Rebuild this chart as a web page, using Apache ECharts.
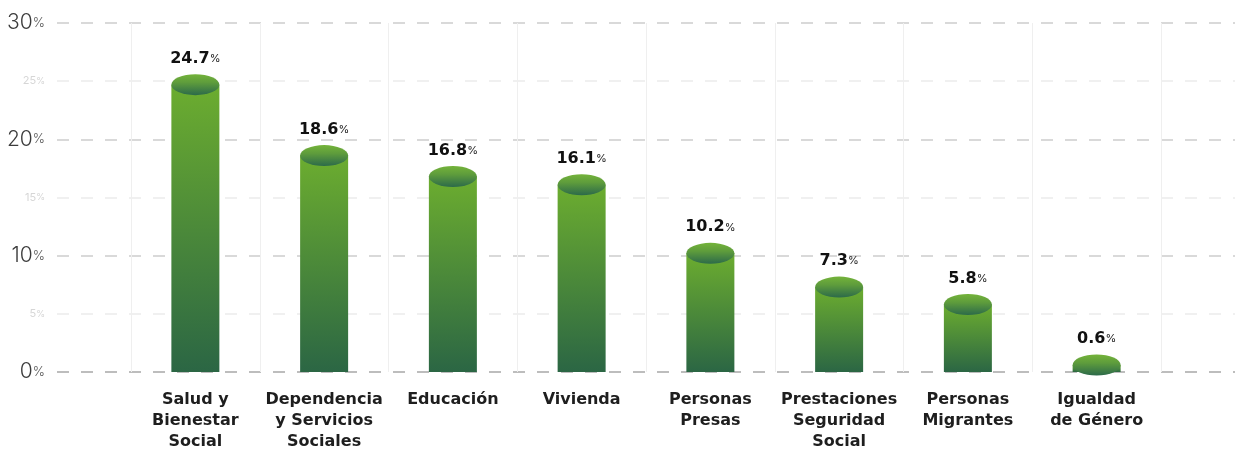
<!DOCTYPE html>
<html>
<head>
<meta charset="utf-8">
<script src="https://cdn.jsdelivr.net/npm/echarts@6/dist/echarts.min.js"></script>
<style>
  html, body { margin: 0; padding: 0; background: #fff; }
  #main { width: 1235px; height: 452px; }
</style>
</head>
<body>
<div id="main"></div>
<script>
// datos
var categories = [
  "Salud y\nBienestar\nSocial",
  "Dependencia\ny Servicios\nSociales",
  "Educación",
  "Vivienda",
  "Personas\nPresas",
  "Prestaciones\nSeguridad\nSocial",
  "Personas\nMigrantes",
  "Igualdad\nde Género"
];
var values = [24.7, 18.6, 16.8, 16.1, 10.2, 7.3, 5.8, 0.6];
var yTicks = [0, 5, 10, 15, 20, 25, 30];

var FONT = "Inter, 'Noto Sans', sans-serif";
var BOLD = "'DejaVu Sans', sans-serif";
var myChart = echarts.init(document.getElementById("main"));

var hidden = { show: false };

myChart.setOption({
  animation: false,
  textStyle: { fontFamily: FONT },
  grid: [
    { left: 57, right: 0, top: 23, bottom: 80 },
    { left: 131, right: 74, top: 23, bottom: 80 }
  ],
  xAxis: [
    { gridIndex: 0, type: "value", show: false },
    {
      gridIndex: 1,
      type: "category",
      data: categories,
      axisLine: hidden,
      axisTick: hidden,
      splitLine: { show: true, lineStyle: { color: "#efefef", width: 1 } },
      axisLabel: {
        margin: 17,
        interval: 0,
        color: "#1e1e1e",
        fontSize: 16,
        fontWeight: "bold",
        lineHeight: 21,
        fontFamily: BOLD
      }
    }
  ],
  yAxis: [
    {
      // lineas menores 5, 15, 25
      gridIndex: 0,
      type: "value",
      position: "left",
      min: yTicks[0],
      max: yTicks[yTicks.length - 1],
      interval: 5,
      axisLine: hidden,
      axisTick: hidden,
      splitLine: {
        lineStyle: { color: ["transparent", "#ebebeb"], type: [12, 12], width: 1.5 }
      },
      axisLabel: {
        margin: 12,
        formatter: function (v) {
          return v % 10 === 0 ? "" : "{n|" + v + "}{p|%}";
        },
        rich: {
          n: { fontSize: 11, color: "#d6d6d6", fontFamily: FONT },
          p: { fontSize: 9, color: "#d6d6d6", fontFamily: FONT }
        }
      }
    },
    {
      // lineas mayores 0, 10, 20, 30
      gridIndex: 0,
      type: "value",
      position: "left",
      offset: 0,
      min: yTicks[0],
      max: yTicks[yTicks.length - 1],
      interval: 10,
      axisLine: hidden,
      axisTick: hidden,
      splitLine: {
        lineStyle: { color: ["#bdbdbd", "#d9d9d9", "#d9d9d9", "#d9d9d9"], type: [12, 12], width: 2 }
      },
      axisLabel: {
        margin: 12,
        formatter: function (v) {
          return "{n|" + v + "}{p|%}";
        },
        rich: {
          n: { fontSize: 21, color: "#3c3c3c", fontWeight: 300, fontFamily: FONT },
          p: { fontSize: 13, color: "#555", fontWeight: 300, fontFamily: FONT }
        }
      }
    },
    {
      gridIndex: 1,
      type: "value",
      min: yTicks[0],
      max: yTicks[yTicks.length - 1],
      show: false
    }
  ],
  series: [
    {
      type: "bar",
      xAxisIndex: 1,
      yAxisIndex: 2,
      data: values,
      barWidth: 48,
      z: 2,
      itemStyle: {
        color: new echarts.graphic.LinearGradient(0, 0, 0, 1, [
          { offset: 0, color: "#6cad2f" },
          { offset: 1, color: "#2b6644" }
        ])
      },
      label: {
        show: true,
        position: "top",
        distance: 18,
        formatter: function (p) {
          return "{v|" + p.value + "}{p|%}";
        },
        rich: {
          v: { fontSize: 16, fontWeight: "bold", color: "#111", fontFamily: BOLD },
          p: { fontSize: 11, color: "#222", fontFamily: FONT }
        }
      }
    },
    {
      type: "pictorialBar",
      xAxisIndex: 1,
      yAxisIndex: 2,
      data: values,
      symbol: "circle",
      symbolSize: [48, 21],
      symbolPosition: "end",
      symbolOffset: [0, "-50%"],
      z: 3,
      itemStyle: {
        color: new echarts.graphic.LinearGradient(0, 0, 0, 1, [
          { offset: 0, color: "#74b33a" },
          { offset: 0.4, color: "#5e9c3c" },
          { offset: 1, color: "#2c6a4a" }
        ])
      }
    }
  ]
});
</script>
</body>
</html>
